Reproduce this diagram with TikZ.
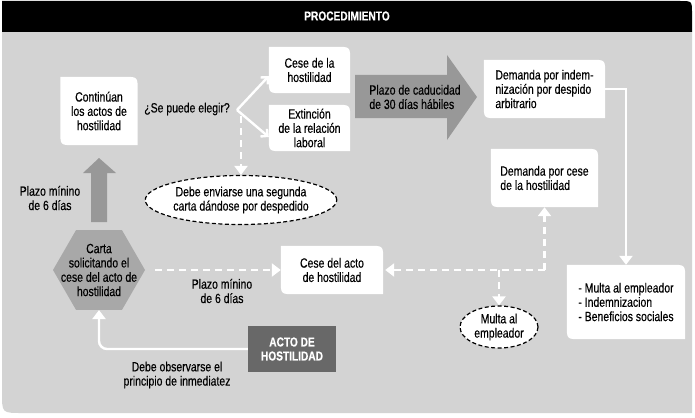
\documentclass[tikz,border=0pt]{standalone}
\usepackage{fontspec}
\setmainfont{Liberation Sans}[FakeStretch=0.78,FakeBold=0.4]
\usetikzlibrary{shapes,arrows,arrows.meta,positioning,calc}
\pgfdeclarelayer{bg}
\pgfsetlayers{bg,main}
\definecolor{panel}{RGB}{211,211,211}
\definecolor{biggray}{RGB}{152,152,152}
\definecolor{hexgray}{RGB}{168,168,168}
\definecolor{actogray}{RGB}{104,104,104}
\tikzstyle{leaf} = [align=center, inner sep=0pt]
\tikzstyle{wline} = [draw=white, line width=2.4pt]
\tikzstyle{dline} = [wline, dash pattern=on 7pt off 5pt]
\tikzstyle{wtip} = [-{Triangle[width=13pt,length=9pt]}]
\tikzstyle{btip} = [-{Straight Barb[length=5pt,width=10pt]}]
\tikzstyle{dashell} = [ellipse, draw, fill=white, line width=1.2pt, dash pattern=on 4pt off 2.5pt, align=center, inner sep=0pt]
\newcommand{\leafbg}[1]{\fill[white] (#1.north west) -- ([xshift=-14pt]#1.north east) .. controls (#1.north east) .. ([yshift=-14pt]#1.north east) -- (#1.south east) -- ([xshift=14pt]#1.south west) .. controls (#1.south west) .. ([yshift=14pt]#1.south west) -- cycle;}

\begin{document}
\begin{tikzpicture}[x=1pt,y=-1pt,font=\fontsize{13.4}{14.3}\selectfont]
		\useasboundingbox (0,0) rectangle (695,417);
		\begin{pgfonlayer}{bg}
		\fill[panel] (2,32) -- (692,32) -- (692,413) -- (22,413) .. controls (2,413) .. (2,393) -- cycle;
		\fill[black] (2,1) -- (680,1) .. controls (692,1) .. (692,13) -- (692,32) -- (2,32) -- cycle;
		% big gray arrows
		\fill[biggray] (355,75) -- (447,75) -- (447,55) -- (477,97) -- (447,140) -- (447,118) -- (355,118) -- cycle;
		\fill[biggray] (91,222) -- (91,173) -- (83,173) -- (99,158) -- (116,173) -- (107,173) -- (107,222) -- cycle;
		\end{pgfonlayer}
		\node[text=white, font=\bfseries\fontsize{13}{14}\selectfont] (title) at (347,16) {PROCEDIMIENTO};
		\node[leaf, minimum width=77pt, minimum height=68pt] (cont) at (99,111) {Continúan\\los actos de\\hostilidad};
		\node[leaf, minimum width=81pt, minimum height=46pt] (cese) at (309.5,70) {Cese de la\\hostilidad};
		\node[leaf, minimum width=81pt, minimum height=46pt] (ext) at (309.5,128) {Extinción\\de la relación\\laboral};
		\node (elegir) at (187,109) {¿Se puede elegir?};
		\coordinate (fork) at (237,110);
		\node[dashell, minimum width=168pt, minimum height=49pt] (seg) at (241,200) {Debe enviarse una segunda\\carta dándose por despedido};
		\node[align=left] (plazo30) at (415,97) {Plazo de caducidad\\de 30 días hábiles};
		\node[leaf, align=left, minimum width=121pt, minimum height=58pt] (dind) at (544.5,89) {Demanda por indem-\\nización por despido\\arbitrario};
		\node[leaf, align=left, minimum width=107pt, minimum height=58pt] (dcese) at (544.5,178) {Demanda por cese\\de la hostilidad};
		\node[leaf, align=left, minimum width=118pt, minimum height=74pt] (lista) at (626,302) {- Multa al empleador\\- Indemnizacion\\- Beneficios sociales};
		\node[dashell, minimum width=78pt, minimum height=42pt] (multa) at (499,327) {Multa al\\empleador};
		\node[leaf, minimum width=102pt, minimum height=48pt] (cacto) at (332,270) {Cese del acto\\de hostilidad};
		\node[regular polygon, regular polygon sides=6, fill=hexgray, minimum size=92pt] (carta) at (99,270) {};
		\node[align=center] (cartatxt) at (carta) {Carta\\solicitando el\\cese del acto de\\hostilidad};
		\node[fill=actogray, text=white, font=\bfseries\fontsize{13}{14}\selectfont, minimum width=88pt, minimum height=46pt, align=center] (acto) at (292,349) {ACTO DE\\HOSTILIDAD};
		\node[align=center] (plazoa) at (50,198) {Plazo mínino\\de 6 días};
		\node[align=center] (plazob) at (222,291) {Plazo mínino\\de 6 días};
		\node[align=center] (inmed) at (177,375) {Debe observarse el\\principio de inmediatez};
		\begin{pgfonlayer}{bg}
		\foreach \n in {cont,cese,ext,dind,dcese,lista,cacto} {\leafbg{\n}}
		\end{pgfonlayer}
		\draw[wline,btip] (fork) -- ([yshift=-6pt]cese.west);
		\draw[wline,btip] (fork) -- ([yshift=-9pt]ext.west);
		\draw[dline,wtip] ([xshift=4pt,yshift=-6pt]fork) -- (seg.north);
		\draw[wline,wtip] (dind.east) -| (lista.north);
		\draw[dline,wtip] ([xshift=10pt]carta.east) -- (cacto.west);
		\coordinate (jn) at (dcese.south |- cacto.east);
		\draw[dline,wtip] (jn) -- ([xshift=2pt]cacto.east);
		\draw[dline,wtip] (jn) -- (dcese.south);
		\draw[dline,wtip] (multa.north |- jn) -- (multa.north);
		\draw[wline,wtip,rounded corners=8pt] (acto.west) -| (carta.south);
\end{tikzpicture}
\end{document}
